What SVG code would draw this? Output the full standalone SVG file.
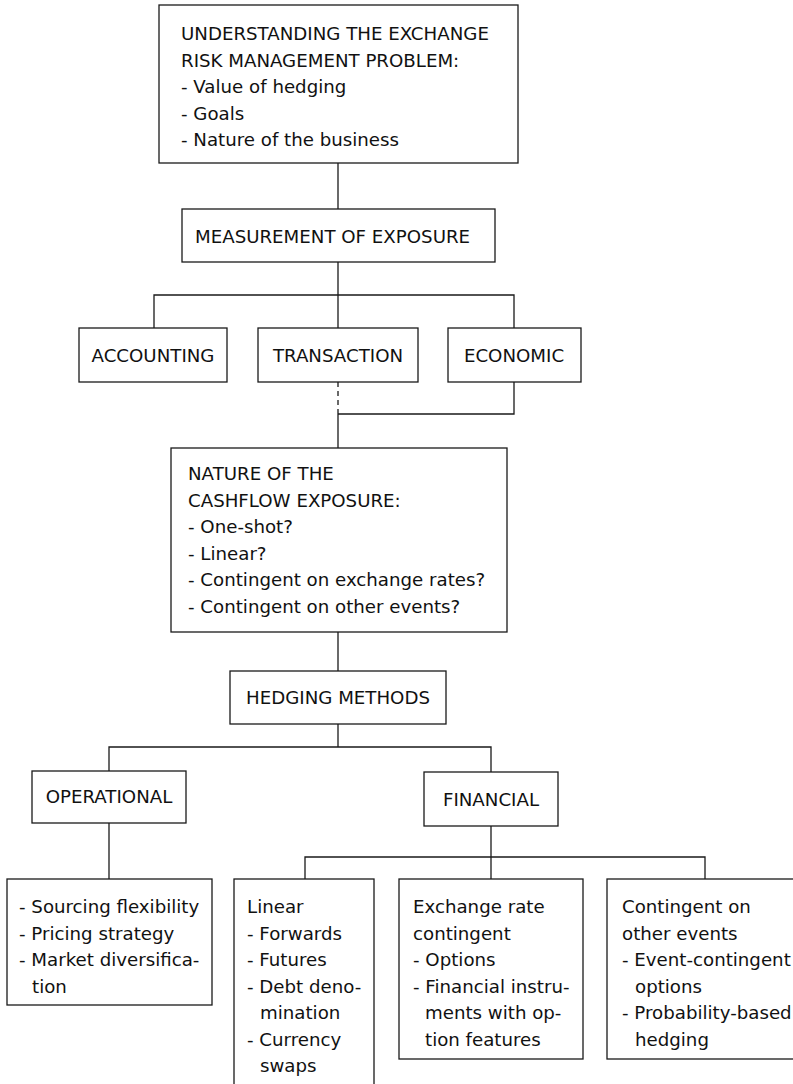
<svg xmlns="http://www.w3.org/2000/svg" width="793" height="1084" viewBox="0 0 793 1084">
<style>
.box{fill:#fff;stroke:#1a1a1a;stroke-width:1.3}
.ln{fill:none;stroke:#1a1a1a;stroke-width:1.3}
.dash{fill:none;stroke:#1a1a1a;stroke-width:1.3;stroke-dasharray:5 4}
text{font-family:"DejaVu Sans","Liberation Sans",sans-serif;font-size:18.2px;fill:#111}
</style>
<rect width="793" height="1084" fill="#fff"/>
<g id="connectors">
<line class="ln" x1="338" y1="163" x2="338" y2="209"/>
<line class="ln" x1="338" y1="262" x2="338" y2="328"/>
<polyline class="ln" points="154,328 154,295 514,295 514,328"/>
<line class="dash" x1="338" y1="382" x2="338" y2="414"/>
<polyline class="ln" points="514,382 514,414 338,414"/>
<line class="ln" x1="338" y1="414" x2="338" y2="448"/>
<line class="ln" x1="338" y1="632" x2="338" y2="671"/>
<line class="ln" x1="338" y1="724" x2="338" y2="747"/>
<polyline class="ln" points="109,771 109,747 491,747 491,772"/>
<line class="ln" x1="109" y1="823" x2="109" y2="879"/>
<line class="ln" x1="491" y1="826" x2="491" y2="879"/>
<polyline class="ln" points="305,879 305,857 705,857 705,879"/>
</g>
<g id="understanding">
<rect class="box" x="159" y="5" width="359" height="158"/>
<text x="181" y="40">UNDERSTANDING THE EXCHANGE</text>
<text x="181" y="66.5">RISK MANAGEMENT PROBLEM:</text>
<text x="181" y="93">- Value of hedging</text>
<text x="181" y="119.5">- Goals</text>
<text x="181" y="146">- Nature of the business</text>
</g>
<g id="measurement">
<rect class="box" x="182" y="209" width="313" height="53"/>
<text x="195" y="243">MEASUREMENT OF EXPOSURE</text>
</g>
<g id="accounting">
<rect class="box" x="79" y="328" width="148" height="54"/>
<text x="153" y="362" text-anchor="middle">ACCOUNTING</text>
</g>
<g id="transaction">
<rect class="box" x="258" y="328" width="160" height="54"/>
<text x="338" y="362" text-anchor="middle">TRANSACTION</text>
</g>
<g id="economic">
<rect class="box" x="448" y="328" width="133" height="54"/>
<text x="514" y="362" text-anchor="middle">ECONOMIC</text>
</g>
<g id="nature">
<rect class="box" x="171" y="448" width="336" height="184"/>
<text x="188" y="480">NATURE OF THE</text>
<text x="188" y="507">CASHFLOW EXPOSURE:</text>
<text x="188" y="533">- One-shot?</text>
<text x="188" y="560">- Linear?</text>
<text x="188" y="586">- Contingent on exchange rates?</text>
<text x="188" y="613">- Contingent on other events?</text>
</g>
<g id="hedging">
<rect class="box" x="230" y="671" width="216" height="53"/>
<text x="338" y="704" text-anchor="middle">HEDGING METHODS</text>
</g>
<g id="operational">
<rect class="box" x="32" y="771" width="154" height="52"/>
<text x="109" y="803" text-anchor="middle">OPERATIONAL</text>
</g>
<g id="financial">
<rect class="box" x="424" y="772" width="134" height="54"/>
<text x="491" y="806" text-anchor="middle">FINANCIAL</text>
</g>
<g id="operational-items">
<rect class="box" x="7" y="879" width="205" height="126"/>
<text x="19" y="913">- Sourcing flexibility</text>
<text x="19" y="939.5">- Pricing strategy</text>
<text x="19" y="966">- Market diversifica-</text>
<text x="32" y="992.5">tion</text>
</g>
<g id="linear">
<rect class="box" x="234" y="879" width="140" height="215"/>
<text x="247" y="913">Linear</text>
<text x="247" y="939.5">- Forwards</text>
<text x="247" y="966">- Futures</text>
<text x="247" y="992.5">- Debt deno-</text>
<text x="260" y="1019">mination</text>
<text x="247" y="1045.5">- Currency</text>
<text x="260" y="1072">swaps</text>
</g>
<g id="exchange-rate-contingent">
<rect class="box" x="399" y="879" width="184" height="180"/>
<text x="413" y="913">Exchange rate</text>
<text x="413" y="939.5">contingent</text>
<text x="413" y="966">- Options</text>
<text x="413" y="992.5">- Financial instru-</text>
<text x="425" y="1019">ments with op-</text>
<text x="425" y="1045.5">tion features</text>
</g>
<g id="other-events">
<rect class="box" x="607" y="879" width="200" height="180"/>
<text x="622" y="913">Contingent on</text>
<text x="622" y="939.5">other events</text>
<text x="622" y="966">- Event-contingent</text>
<text x="635" y="992.5">options</text>
<text x="622" y="1019">- Probability-based</text>
<text x="635" y="1045.5">hedging</text>
</g>
</svg>
